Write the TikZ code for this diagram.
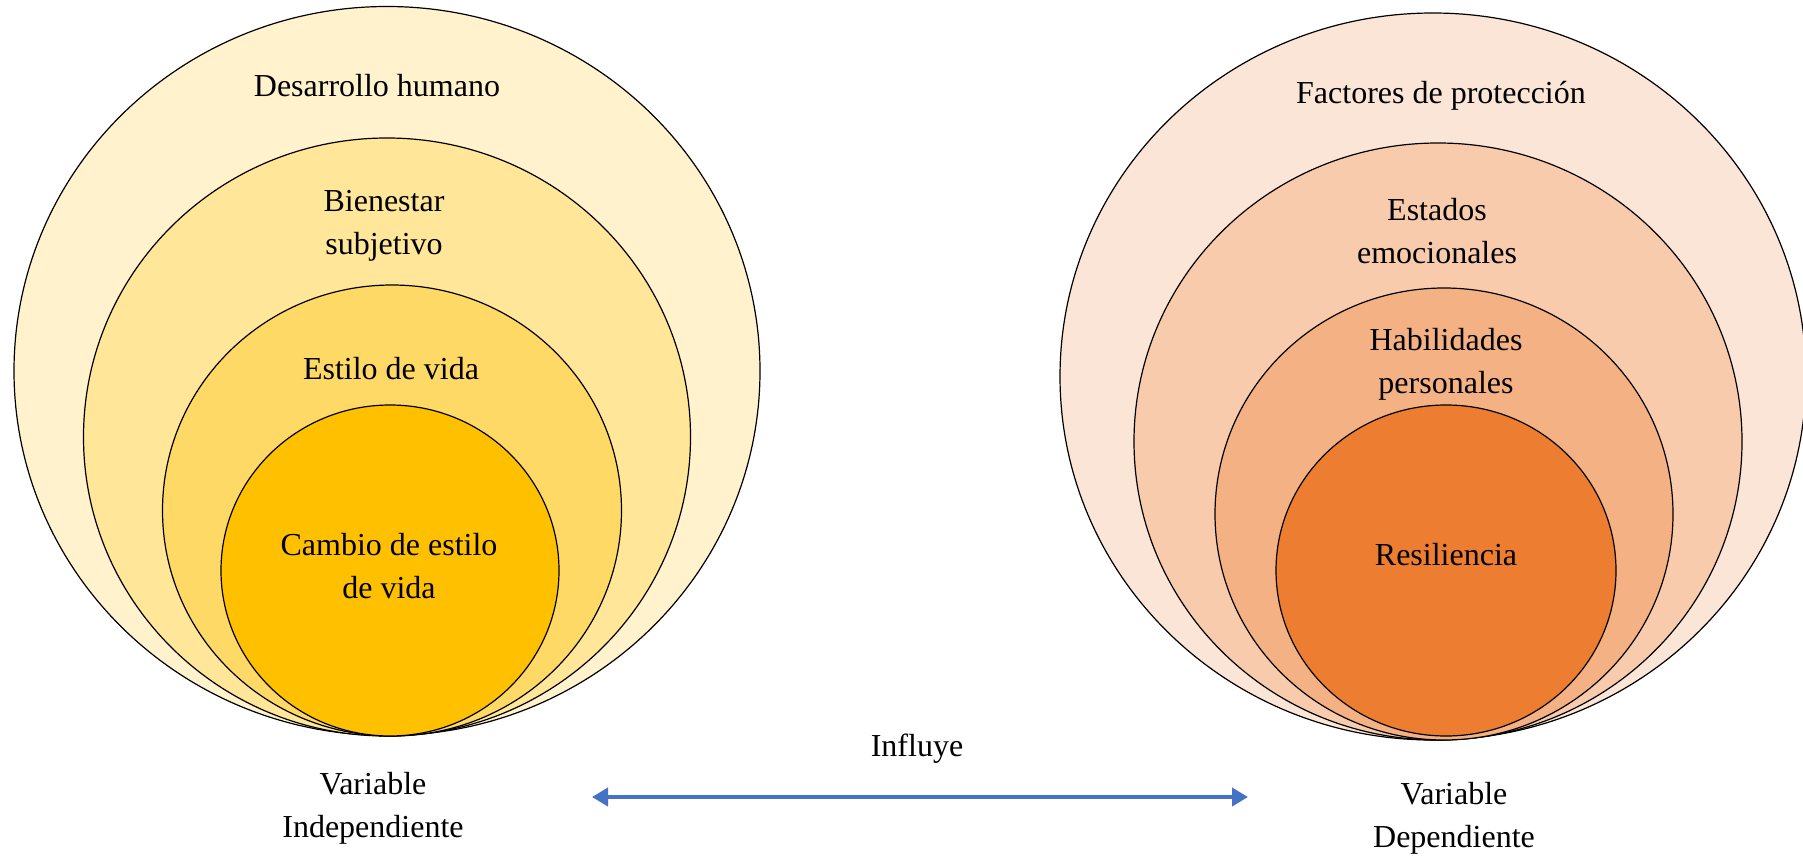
\documentclass[tikz,border=0pt]{standalone}
\usepackage{fontspec}
\setmainfont{Liberation Serif}
\usepackage{xcolor}
\usepackage{tikz}
\usetikzlibrary{
  arrows.meta,
  positioning,
  shapes.geometric
}
\definecolor{goldA}{RGB}{255,242,204}
\definecolor{goldB}{RGB}{255,230,153}
\definecolor{goldC}{RGB}{255,217,102}
\definecolor{goldD}{RGB}{255,192,0}
\definecolor{orangeA}{RGB}{251,229,214}
\definecolor{orangeB}{RGB}{248,203,173}
\definecolor{orangeC}{RGB}{244,177,131}
\definecolor{orangeD}{RGB}{237,125,49}
\definecolor{linkblue}{RGB}{68,114,196}
\tikzset{
  ring/.style={
    ellipse,
    draw=black,
    fill=#1,
    line width=0.6pt,
    inner sep=0pt,
    outer sep=0pt
  },
  lbl/.style={
    align=center,
    inner sep=0pt,
    font=\fontsize{16}{21.5}\selectfont
  },
  arrow/.style={
    {Triangle[length=8pt,width=9pt]}-{Triangle[length=8pt,width=9pt]},
    line width=2pt,
    draw=linkblue
  }
}

\begin{document}
\begin{tikzpicture}[x=0.5pt,y=-0.5pt]
\useasboundingbox (0,0) rectangle (1803,856);

% variable independiente
\node[ring=goldA, minimum width=373pt, minimum height=364.5pt] (desarrollo) at (387,371) {};
\node[ring=goldB, minimum width=303.5pt, minimum height=299pt] (bienestar) at (387,437) {};
\node[ring=goldC, minimum width=229.5pt, minimum height=225.5pt] (estilo) at (392,510.5) {};
\node[ring=goldD, minimum width=169pt, minimum height=165.5pt] (cambio) at (390,570.5) {};

\node[lbl] (tdesarrollo) at (377,86) {Desarrollo humano};
\node[lbl] (tbienestar) at (384,226) {Bienestar\\subjetivo};
\node[lbl] (testilo) at (391,369) {Estilo de vida};
\node[lbl] (tcambio) at (389,566) {Cambio de estilo\\de vida};
\node[lbl] (indep) at (373,808) {Variable\\Independiente};

% variable dependiente
\node[ring=orangeA, minimum width=373pt, minimum height=363.5pt] (factores) at (1433,376.5) {};
\node[ring=orangeB, minimum width=304pt, minimum height=298.5pt] (estados) at (1438,441.5) {};
\node[ring=orangeC, minimum width=229pt, minimum height=226pt] (habilidades) at (1444,514) {};
\node[ring=orangeD, minimum width=170pt, minimum height=165.5pt] (resiliencia) at (1446,570.5) {};

\node[lbl] (tfactores) at (1441,96) {Factores de protección};
\node[lbl] (testados) at (1437,231) {Estados\\emocionales};
\node[lbl] (thabilidades) at (1446,364) {Habilidades\\personales};
\node[lbl] (tresiliencia) at (1446,555) {Resiliencia};
\node[lbl] (dep) at (1454,818) {Variable\\Dependiente};

% relacion
\node[lbl] (influye) at (917,749) {Influye};
\coordinate (izq) at (592,797);
\coordinate (der) at (1248,797);
\draw[arrow] (izq) -- (der);
\end{tikzpicture}
\end{document}
